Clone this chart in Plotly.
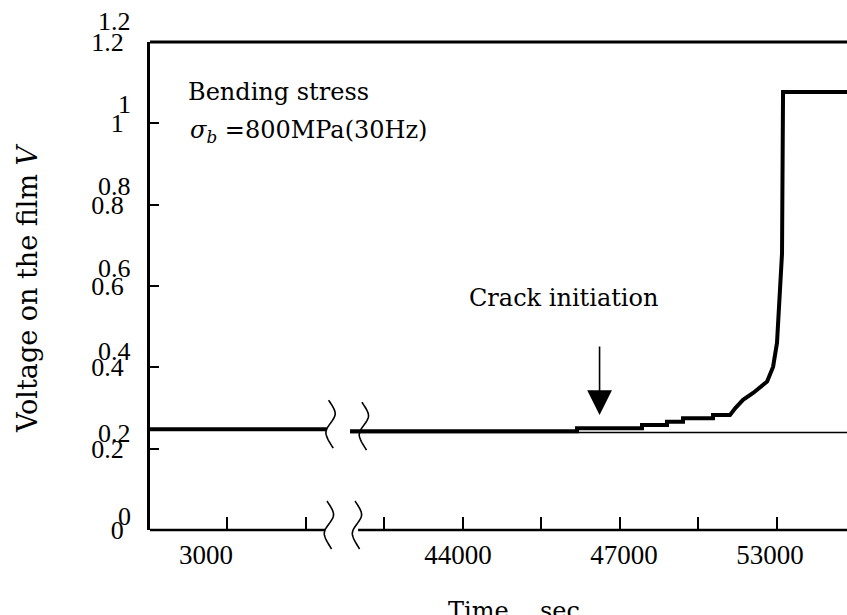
import numpy as np
import plotly.graph_objects as go

# ---------------- data (x = position along the broken time axis, 1 unit per major tick) -------------
left_t = [0.02, 2.269]
left_v = [0.248, 0.248]

right_t = [2.566, 5.455, 5.455, 6.282, 6.282, 6.600, 6.600, 6.804, 6.804, 7.186, 7.186,
           7.402, 7.470, 7.568, 7.696, 7.785, 7.874, 7.950, 8.000, 8.064, 8.070, 8.077, 8.891]
right_v = [0.243, 0.243, 0.250, 0.250, 0.258, 0.258, 0.266, 0.266, 0.275, 0.275, 0.283,
           0.283, 0.300, 0.320, 0.337, 0.350, 0.365, 0.401, 0.460, 0.680, 0.960, 1.077, 1.077]

baseline_t = [2.566, 8.891]
baseline_v = [0.240, 0.240]

x_tick_pos = [1, 2, 3, 4, 5, 6, 7, 8]
x_label_pos = [0.733, 3.939, 6.053, 7.911]
x_label_text = ["3000", "44000", "47000", "53000"]

y_ticks = [0, 0.2, 0.4, 0.6, 0.8, 1.0, 1.2]
y_tick_text = ["0", "0.2", "0.4", "0.6", "0.8", "1", "1.2"]

X_RANGE = [0.02, 8.891]
Y_RANGE = [0, 1.2]

SERIF = "DejaVu Serif"
DIGITS = "Liberation Serif"


def up(u):
    return (u - X_RANGE[0]) / (X_RANGE[1] - X_RANGE[0])


def vp(v):
    return (v - Y_RANGE[0]) / (Y_RANGE[1] - Y_RANGE[0])


fig = go.Figure()
fig.add_trace(go.Scatter(x=left_t, y=left_v, mode="lines",
                         line=dict(color="black", width=4), showlegend=False, hoverinfo="skip"))
fig.add_trace(go.Scatter(x=right_t, y=right_v, mode="lines",
                         line=dict(color="black", width=4), showlegend=False, hoverinfo="skip"))
fig.add_trace(go.Scatter(x=baseline_t, y=baseline_v, mode="lines", xaxis="x2",
                         line=dict(color="black", width=1.5), showlegend=False, hoverinfo="skip"))

shapes = []
# top spine
shapes.append(dict(type="line", xref="paper", yref="paper", x0=0, x1=1, y0=1, y1=1,
                   line=dict(color="black", width=3), layer="above"))
# broken bottom axis
gap_lo, gap_hi = 2.248, 2.668
shapes.append(dict(type="line", xref="paper", yref="paper", x0=0, x1=up(gap_lo), y0=0, y1=0,
                   line=dict(color="black", width=2.5), layer="above"))
shapes.append(dict(type="line", xref="paper", yref="paper", x0=up(gap_hi), x1=1, y0=0, y1=0,
                   line=dict(color="black", width=2.5), layer="above"))

# break-mark outline: (dx right, dy down) in pixels relative to where it crosses the line
BREAK_PTS = [(2.0, -29.0), (8.5, -15.0), (0.0, 0.0), (0.3, 8.0), (6.5, 19.0)]


def catmull(pts, n=10):
    p = [pts[0]] + pts + [pts[-1]]
    out = []
    for i in range(1, len(p) - 2):
        p0, p1, p2, p3 = map(np.array, (p[i - 1], p[i], p[i + 1], p[i + 2]))
        for s in np.linspace(0, 1, n, endpoint=False):
            out.append(0.5 * ((2 * p1) + (-p0 + p2) * s + (2 * p0 - 5 * p1 + 4 * p2 - p3) * s ** 2
                              + (-p0 + 3 * p1 - 3 * p2 + p3) * s ** 3))
    out.append(np.array(pts[-1]))
    return out


def squiggle(xu, v):
    pts = catmull(BREAK_PTS)
    path = "M" + " L".join(f"{a:.2f},{-b:.2f}" for a, b in pts)
    return dict(type="path", xref="paper", yref="paper", xsizemode="pixel", ysizemode="pixel",
                xanchor=up(xu), yanchor=vp(v), path=path,
                line=dict(color="black", width=1.6), layer="above")


shapes.append(squiggle(2.248, 0.0))
shapes.append(squiggle(2.605, 0.0))
shapes.append(squiggle(2.269, 0.248))
shapes.append(squiggle(2.693, 0.243))

annotations = []
# duplicated (offset) y tick labels
for v, t in zip(y_ticks, y_tick_text):
    p = 516 - v * 411.7
    annotations.append(dict(xref="paper", yref="paper", x=-0.024, y=(530 - p) / 488,
                            xanchor="right", yanchor="middle", text=t, showarrow=False,
                            font=dict(family=DIGITS, size=26, color="black")))

annotations.append(dict(xref="paper", yref="paper", x=0.051, y=0.8975, xanchor="left",
                        yanchor="middle", text="Bending stress", showarrow=False,
                        font=dict(family=SERIF, size=24, color="black")))
annotations.append(dict(xref="paper", yref="paper", x=0.055, y=0.8156, xanchor="left",
                        yanchor="middle", text="<i>σ</i><sub><i>b</i></sub> =800MPa(30Hz)",
                        showarrow=False, font=dict(family=SERIF, size=24, color="black")))
annotations.append(dict(xref="paper", yref="paper", x=0.455, y=0.4754, xanchor="left",
                        yanchor="middle", text="Crack initiation", showarrow=False,
                        font=dict(family=SERIF, size=24, color="black")))
annotations.append(dict(xref="paper", yref="paper", x=0.645, y=(530 - 415) / 488, text="",
                        showarrow=True, arrowhead=2, arrowsize=3.1, arrowwidth=1.6,
                        arrowcolor="black", ax=0, ay=-70))
annotations.append(dict(xref="paper", yref="paper", x=-0.1765, y=0.4959, xanchor="center",
                        yanchor="middle", textangle=-90,
                        text="Voltage on the film <i>V</i>", showarrow=False,
                        font=dict(family=SERIF, size=27, color="black")))
annotations.append(dict(xref="paper", yref="paper", x=0.4706, y=-0.133, xanchor="center",
                        yanchor="top", text="Time", showarrow=False,
                        font=dict(family=SERIF, size=24, color="black")))
annotations.append(dict(xref="paper", yref="paper", x=0.5882, y=-0.133, xanchor="center",
                        yanchor="top", text="sec", showarrow=False,
                        font=dict(family=SERIF, size=24, color="black")))

fig.update_layout(
    width=847, height=615,
    margin=dict(l=150, r=0, t=42, b=85),
    paper_bgcolor="white", plot_bgcolor="white",
    showlegend=False, hovermode=False,
    xaxis=dict(range=X_RANGE, tickvals=x_tick_pos, showticklabels=False, ticks="inside",
               ticklen=13, tickwidth=2, tickcolor="black", showline=False, showgrid=False,
               zeroline=False),
    xaxis2=dict(range=X_RANGE, overlaying="x", anchor="y", side="bottom",
                tickvals=x_label_pos, ticktext=x_label_text, ticks="", showline=False,
                showgrid=False, zeroline=False, ticklabelstandoff=6,
                tickfont=dict(family=DIGITS, size=27, color="black")),
    yaxis=dict(range=Y_RANGE, tickvals=y_ticks, ticktext=y_tick_text, ticks="inside",
               ticklen=9, tickwidth=2, tickcolor="black", showline=True, linewidth=3,
               linecolor="black", showgrid=False, zeroline=False, ticklabelstandoff=18,
               tickfont=dict(family=DIGITS, size=26, color="black")),
    shapes=shapes,
    annotations=annotations,
)

fig.write_html("out.html")
